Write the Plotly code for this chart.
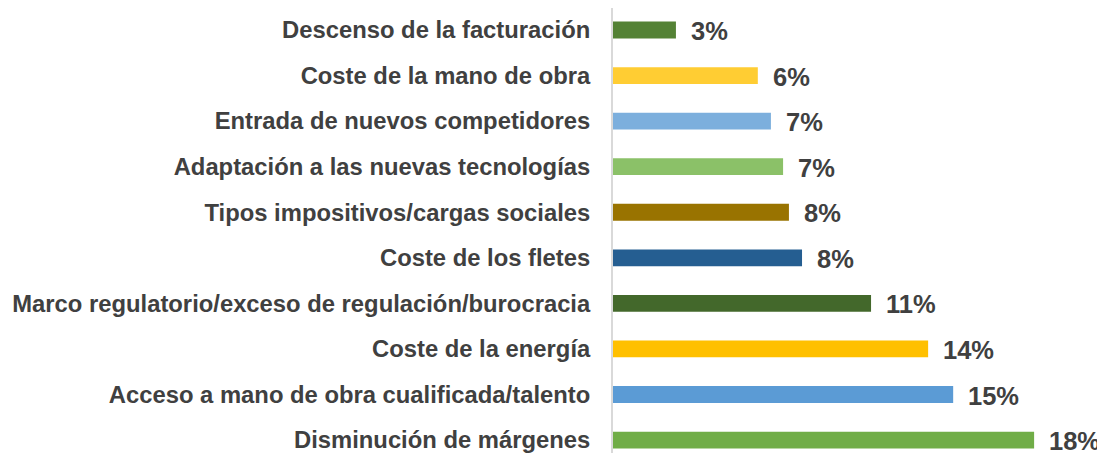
import plotly.graph_objects as go

categories = [
    "Descenso de la facturación",
    "Coste de la mano de obra",
    "Entrada de nuevos competidores",
    "Adaptación a las nuevas tecnologías",
    "Tipos impositivos/cargas sociales",
    "Coste de los fletes",
    "Marco regulatorio/exceso de regulación/burocracia",
    "Coste de la energía",
    "Acceso a mano de obra cualificada/talento",
    "Disminución de márgenes",
]
values = [2.69, 6.19, 6.75, 7.27, 7.52, 8.08, 11.03, 13.47, 14.54, 18.0]
value_labels = ["3%", "6%", "7%", "7%", "8%", "8%", "11%", "14%", "15%", "18%"]
colors = ["#548235", "#FFCD33", "#7CAFDD", "#8BC168", "#997300",
          "#255E91", "#43682B", "#FFC000", "#5B9BD5", "#70AD47"]

FONT = "Liberation Sans, Arial, sans-serif"
TXT = "#404040"

fig = go.Figure(go.Bar(
    x=values,
    y=categories,
    orientation="h",
    marker=dict(color=colors, line=dict(width=0)),
    width=0.37,
    hoverinfo="skip",
))

for c, v, lab in zip(categories, values, value_labels):
    fig.add_annotation(
        x=v, y=c, text=lab, showarrow=False,
        xanchor="left", yanchor="middle", xshift=13, yshift=-1,
        font=dict(family=FONT, size=25.5, color=TXT, weight="bold"),
    )

fig.update_layout(
    width=1105, height=453,
    margin=dict(l=605, r=8, t=0, b=8, pad=0, autoexpand=False),
    paper_bgcolor="white", plot_bgcolor="white",
    showlegend=False,
    xaxis=dict(range=[0, 21.03], visible=False, showgrid=False, zeroline=False),
    yaxis=dict(
        type="category",
        categoryorder="array", categoryarray=categories,
        range=[9.284, -0.483],
        showgrid=False, zeroline=False,
        showline=True, linecolor="#D9D9D9", linewidth=2,
        ticks="", ticklabelstandoff=16, automargin=False,
        tickfont=dict(family=FONT, size=23.8, color=TXT, weight="bold"),
    ),
)

fig.write_html("out.html")
